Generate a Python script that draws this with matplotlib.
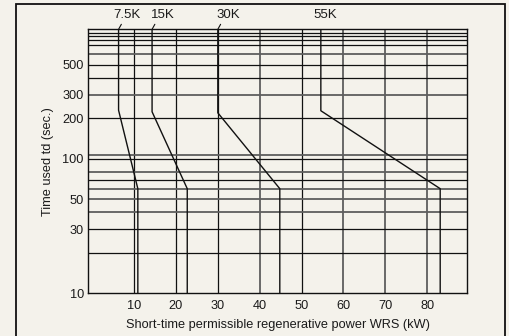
import matplotlib
matplotlib.use("Agg")
import matplotlib.pyplot as plt
from matplotlib.patches import Rectangle

plt.rcParams['font.family'] = ['Liberation Sans', 'DejaVu Sans']

# ---- data ----
curve_labels = ['7.5K', '15K', '30K', '55K']
x_top = [6.3, 14.3, 30.0, 54.6]          # kW at the long-time end
x_bottom = [10.9, 22.7, 44.8, 83.1]      # kW at the short-time end
td_knee_high = [230, 224, 220, 228]      # sec, where the slope starts
td_knee_low = [60, 60, 60, 60]           # sec, where the slope ends
label_x = [8.3, 16.9, 32.6, 55.6]
has_leader = [True, True, True, False]

x_ticks = [10, 20, 30, 40, 50, 60, 70, 80]
y_ticks = [10, 30, 50, 100, 200, 300, 500]

v_grid_dark = [10, 20, 30, 50]
v_grid_grey = [40, 60, 70, 80]
h_grid_dark = [20, 30, 70, 100, 200, 400, 500, 700, 770, 820, 870]
h_grid_grey = [40, 50, 60, 80, 106, 300, 600]

X_MIN, X_MAX = -1, 89.5
Y_MIN, Y_MAX = 10, 920

BG = '#f4f2eb'
DARK = '#111111'
GREY = '#5e5e5e'
TXT = '#1a1a1a'

fig = plt.figure(figsize=(5.10, 3.36), dpi=100, facecolor=BG)
ax = fig.add_axes([88 / 510, 1 - 293.3 / 336, (467 - 88) / 510, (293.3 - 29.3) / 336])
ax.set_facecolor(BG)

# outer frame
fig.patches.append(Rectangle((16 / 510, -0.05), (505 - 16) / 510, 1.05 - 3.5 / 336,
                             transform=fig.transFigure, fill=False,
                             edgecolor=DARK, lw=1.3))

ax.set_yscale('log')
ax.set_xlim(X_MIN, X_MAX)
ax.set_ylim(Y_MIN, Y_MAX)

# grid
for v in v_grid_dark:
    ax.axvline(v, color=DARK, lw=0.9, zorder=1)
for v in v_grid_grey:
    ax.axvline(v, color=GREY, lw=1.3, zorder=1)
for h in h_grid_dark:
    ax.axhline(h, color=DARK, lw=0.9, zorder=1)
for h in h_grid_grey:
    ax.axhline(h, color=GREY, lw=1.3, zorder=1)

# curves
for i, lab in enumerate(curve_labels):
    xs = [x_top[i], x_top[i], x_bottom[i], x_bottom[i]]
    ys = [Y_MAX, td_knee_high[i], td_knee_low[i], Y_MIN]
    ax.plot(xs, ys, color=DARK, lw=1.0, zorder=3)

    ax.text(label_x[i], 1.055, lab, transform=ax.get_xaxis_transform(),
            ha='center', va='center', fontsize=9.5, color=TXT)
    if has_leader[i]:
        ax.annotate('', xy=(x_top[i], 1.0), xycoords=ax.get_xaxis_transform(),
                    xytext=(2.0, 3.6), textcoords='offset points',
                    arrowprops=dict(arrowstyle='-', lw=0.8, color=DARK,
                                    shrinkA=0, shrinkB=0),
                    annotation_clip=False)

ax.set_xticks(x_ticks)
ax.set_xticklabels([str(t) for t in x_ticks])
ax.set_yticks(y_ticks)
ax.set_yticklabels([str(t) for t in y_ticks])
ax.minorticks_off()
ax.tick_params(axis='both', length=0, labelsize=9.2, colors=TXT)
ax.tick_params(axis='x', pad=5)
ax.tick_params(axis='y', pad=3)

for s in ax.spines.values():
    s.set_color(DARK)
    s.set_linewidth(1.0)

ax.set_xlabel('Short-time permissible regenerative power WRS (kW)',
              fontsize=9.2, color=TXT, labelpad=5)
ax.set_ylabel('Time used td (sec.)', fontsize=9.2, color=TXT, labelpad=6)

fig.savefig('out.png', dpi=100, facecolor=BG)
